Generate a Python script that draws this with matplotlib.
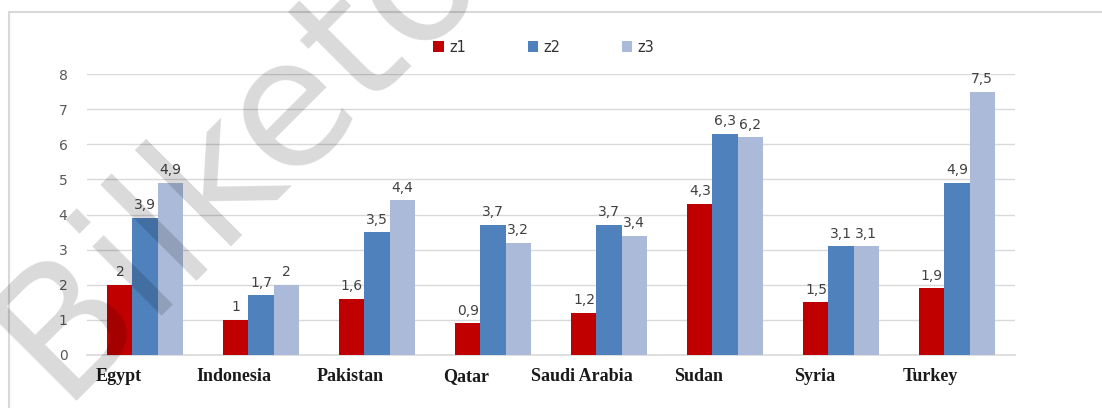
import matplotlib
matplotlib.use("Agg")
import matplotlib.pyplot as plt
import matplotlib.patches as mpatches
import matplotlib.transforms as mtransforms
import numpy as np

# data
countries = ["Egypt", "Indonesia", "Pakistan", "Qatar", "Saudi Arabia", "Sudan", "Syria", "Turkey"]
z1 = [2, 1, 1.6, 0.9, 1.2, 4.3, 1.5, 1.9]
z2 = [3.9, 1.7, 3.5, 3.7, 3.7, 6.3, 3.1, 4.9]
z3 = [4.9, 2, 4.4, 3.2, 3.4, 6.2, 3.1, 7.5]
series_names = ["z1", "z2", "z3"]
colors = ["#C00000", "#4F81BD", "#AABAD8"]
y_ticks = [0, 1, 2, 3, 4, 5, 6, 7, 8]

W, H = 1102, 408
fig = plt.figure(figsize=(W / 100, H / 100), dpi=100)
ax = fig.add_axes([87 / W, 53 / H, 928 / W, 281 / H])

x = np.arange(len(countries))
bw = 0.216
for k, (vals, name, col) in enumerate(zip([z1, z2, z3], series_names, colors)):
    pos = x + (k - 1) * bw
    ax.bar(pos, vals, width=bw, color=col, label=name, zorder=3)
    for p, v in zip(pos, vals):
        lab = f"{v:g}".replace(".", ",")
        ax.annotate(lab, (p, v), xytext=(0, 4), textcoords="offset points",
                    ha="center", va="bottom", fontsize=10, color="#404040",
                    family="DejaVu Sans")

ax.set_xlim(-0.5, len(countries) - 0.5)
ax.set_ylim(0, 8)
ax.set_yticks(y_ticks)
ax.set_yticklabels([str(t) for t in y_ticks], fontsize=10, color="#595959")
ax.yaxis.grid(True, color="#D9D9D9", linewidth=1, zorder=0)
ax.tick_params(axis="y", length=0, pad=14)
for s in ["top", "right", "left"]:
    ax.spines[s].set_visible(False)
ax.spines["bottom"].set_color("#D9D9D9")
ax.spines["bottom"].set_linewidth(1.2)

# category labels sit a bit left of the group centres, on a common baseline
ax.set_xticks([])
trans = mtransforms.blended_transform_factory(ax.transData, ax.transAxes)
for xi, name in zip(x, countries):
    ax.text(xi - 0.23, -0.093, name, transform=trans, ha="center", va="baseline",
            family="Liberation Serif", fontweight="bold", fontsize=13,
            color="#1A1A1A")

fig.legend(loc="center", bbox_to_anchor=(544 / W, 1 - 47 / H), ncol=3,
           frameon=False, fontsize=10.5, handlelength=0.7, handleheight=0.7,
           handletextpad=0.4, columnspacing=4.2, labelcolor="#333333")

# chart area border
fig.patches.append(mpatches.Rectangle((8.5 / W, -0.1), 1.2, 1.1 - 12.5 / H,
                                      transform=fig.transFigure, fill=False,
                                      edgecolor="#D9D9D9", linewidth=1.5))

# watermark
fig.text(238 / W, 1 - 152 / H, "Bilketo", rotation=45, fontsize=128,
         color="black", alpha=0.15, ha="center", va="center",
         family="DejaVu Sans", zorder=10)

fig.savefig("out.png", dpi=100)
